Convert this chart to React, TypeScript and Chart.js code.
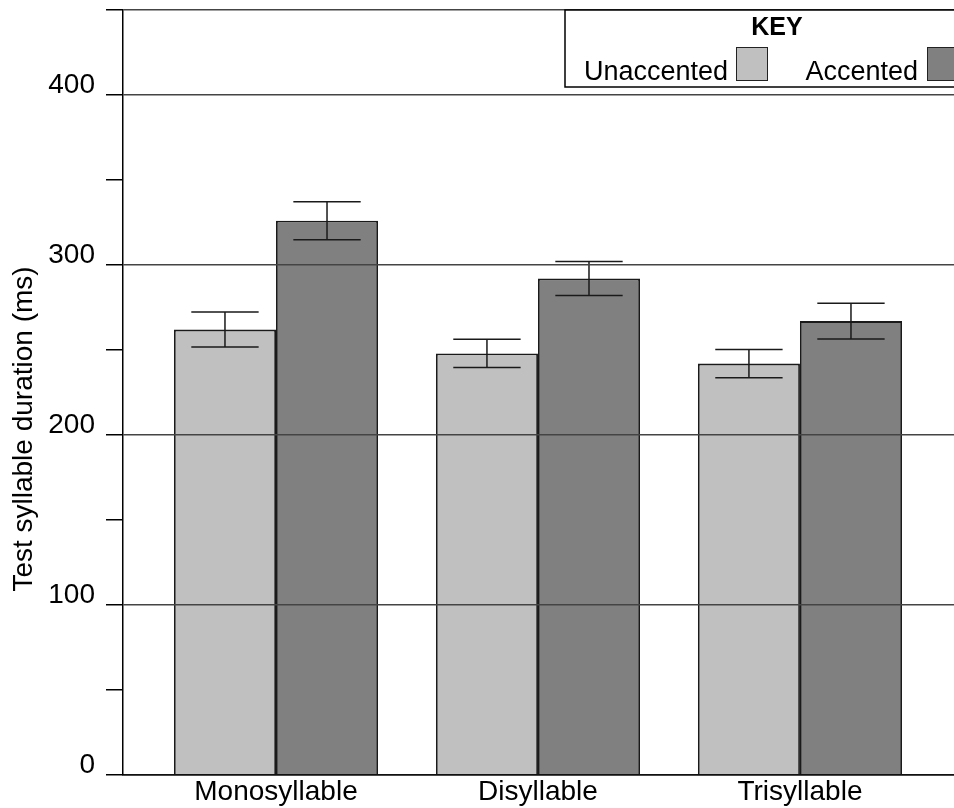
import React, { useEffect, useRef } from 'react';
import { Chart, registerables } from 'chart.js';

Chart.register(...registerables);

const FONT = "'Liberation Sans', Arial, Helvetica, sans-serif";

const categories = ['Monosyllable', 'Disyllable', 'Trisyllable'];
const seriesLabels = ['Unaccented', 'Accented'];
const seriesColors = ['#c0c0c0', '#808080'];
const unaccented = [262, 248, 242];
const unaccentedErr = [10.3, 8.3, 8.3];
const accented = [326, 292, 267];
const accentedErr = [11.2, 10, 10.5];
const yMax = 450;
const yStep = 50;
const yLabelEvery = 100;
const yAxisTitle = 'Test syllable duration (ms)';
const legendTitle = 'KEY';

const errorBarPlugin = {
  id: 'errorBars',
  afterDatasetsDraw(chart: any) {
    const ctx = chart.ctx;
    const y = chart.scales.y;
    chart.data.datasets.forEach((ds: any, di: number) => {
      const meta = chart.getDatasetMeta(di);
      meta.data.forEach((bar: any, i: number) => {
        const v = ds.data[i].y;
        const e = ds.errors[i];
        const top = y.getPixelForValue(v + e);
        const bot = y.getPixelForValue(v - e);
        const half = bar.width * 0.33;
        ctx.save();
        ctx.strokeStyle = '#1a1a1a';
        ctx.lineWidth = 1.5;
        ctx.beginPath();
        ctx.moveTo(bar.x, top);
        ctx.lineTo(bar.x, bot);
        ctx.moveTo(bar.x - half, top);
        ctx.lineTo(bar.x + half, top);
        ctx.moveTo(bar.x - half, bot);
        ctx.lineTo(bar.x + half, bot);
        ctx.stroke();
        ctx.restore();
      });
    });
  },
};

const decorPlugin = {
  id: 'decor',
  afterDraw(chart: any) {
    const ctx = chart.ctx;
    // y axis title
    ctx.save();
    ctx.translate(32, 429);
    ctx.rotate(-Math.PI / 2);
    ctx.font = `28px ${FONT}`;
    ctx.fillStyle = '#000';
    ctx.textAlign = 'center';
    ctx.textBaseline = 'alphabetic';
    ctx.fillText(yAxisTitle, 0, 0);
    ctx.restore();

    // legend box
    ctx.save();
    ctx.fillStyle = '#fff';
    ctx.fillRect(565, 10, 400, 77);
    ctx.strokeStyle = '#000';
    ctx.lineWidth = 1.5;
    ctx.strokeRect(565, 10, 400, 77);
    ctx.fillStyle = '#000';
    ctx.font = `bold 25px ${FONT}`;
    ctx.textAlign = 'center';
    ctx.textBaseline = 'alphabetic';
    ctx.fillText(legendTitle, 777, 35);
    const textRight = [728, 918];
    const swatchLeft = [736, 927];
    chart.data.datasets.forEach((ds: any, di: number) => {
      ctx.font = `27px ${FONT}`;
      ctx.textAlign = 'right';
      ctx.fillStyle = '#000';
      ctx.fillText(ds.label, textRight[di], 80);
      ctx.fillStyle = ds.backgroundColor;
      ctx.fillRect(swatchLeft[di], 47, 31, 33);
      ctx.strokeStyle = '#222';
      ctx.lineWidth = 1;
      ctx.strokeRect(swatchLeft[di] + 0.5, 47.5, 31, 33);
    });
    ctx.restore();
  },
};

export default function App() {
  const ref = useRef<HTMLCanvasElement>(null);

  useEffect(() => {
    document.body.style.margin = '0';
    Chart.defaults.font.family = FONT;
    const values = [unaccented, accented];
    const errors = [unaccentedErr, accentedErr];
    const chart = new Chart(ref.current as HTMLCanvasElement, {
      type: 'bar',
      data: {
        datasets: seriesLabels.map((label, si) => ({
          label,
          data: categories.map((_, i) => ({ x: i + 1, y: values[si][i] })),
          errors: errors[si],
          backgroundColor: seriesColors[si],
          borderColor: '#1a1a1a',
          borderWidth: 1.8,
          categoryPercentage: 0.779,
          barPercentage: 1,
        })) as any,
      },
      options: {
        animation: false,
        responsive: false,
        devicePixelRatio: 1,
        layout: { padding: { top: 10, left: 0, right: 0, bottom: 0 } },
        plugins: { legend: { display: false }, tooltip: { enabled: false } },
        scales: {
          x: {
            type: 'linear',
            min: 0.416,
            max: 3.588,
            offset: false,
            grid: { display: false, drawTicks: false },
            border: { display: true, color: '#000', width: 1.5 },
            afterBuildTicks: (s: any) => {
              s.ticks = categories.map((_, i) => ({ value: i + 1 }));
            },
            ticks: {
              callback: (v: any) => categories[Number(v) - 1] ?? '',
              font: { size: 28, family: FONT },
              color: '#000',
              padding: 0,
              maxRotation: 0,
              autoSkip: false,
            },
            afterFit: (s: any) => {
              s.height = 33;
              s.paddingLeft = 0;
              s.paddingRight = 0;
            },
          },
          y: {
            min: 0,
            max: yMax,
            ticks: {
              stepSize: yStep,
              callback: (v: any) => (Number(v) % yLabelEvery === 0 ? String(v) : ''),
              font: { size: 28, family: FONT },
              color: '#000',
              padding: 11,
              labelOffset: -10,
            },
            grid: {
              z: 1,
              color: (c: any) => {
                if (!c.tick) return 'rgba(0,0,0,0)';
                if (c.tick.value === 0) return '#111';
                return c.tick.value % yLabelEvery === 0 || c.tick.value === yMax
                  ? '#444'
                  : 'rgba(0,0,0,0)';
              },
              lineWidth: 1.5,
              tickLength: 17,
              tickColor: '#000',
              tickWidth: 1.5,
            },
            border: { display: true, color: '#000', width: 1.5, z: 2 },
            afterFit: (s: any) => {
              s.width = 123;
              s.paddingTop = 0;
              s.paddingBottom = 0;
            },
          },
        },
      } as any,
      plugins: [errorBarPlugin, decorPlugin],
    });
    return () => chart.destroy();
  }, []);

  return (
    <div style={{ width: 954, height: 808 }}>
      <canvas ref={ref} width={954} height={808} style={{ display: 'block' }} />
    </div>
  );
}
